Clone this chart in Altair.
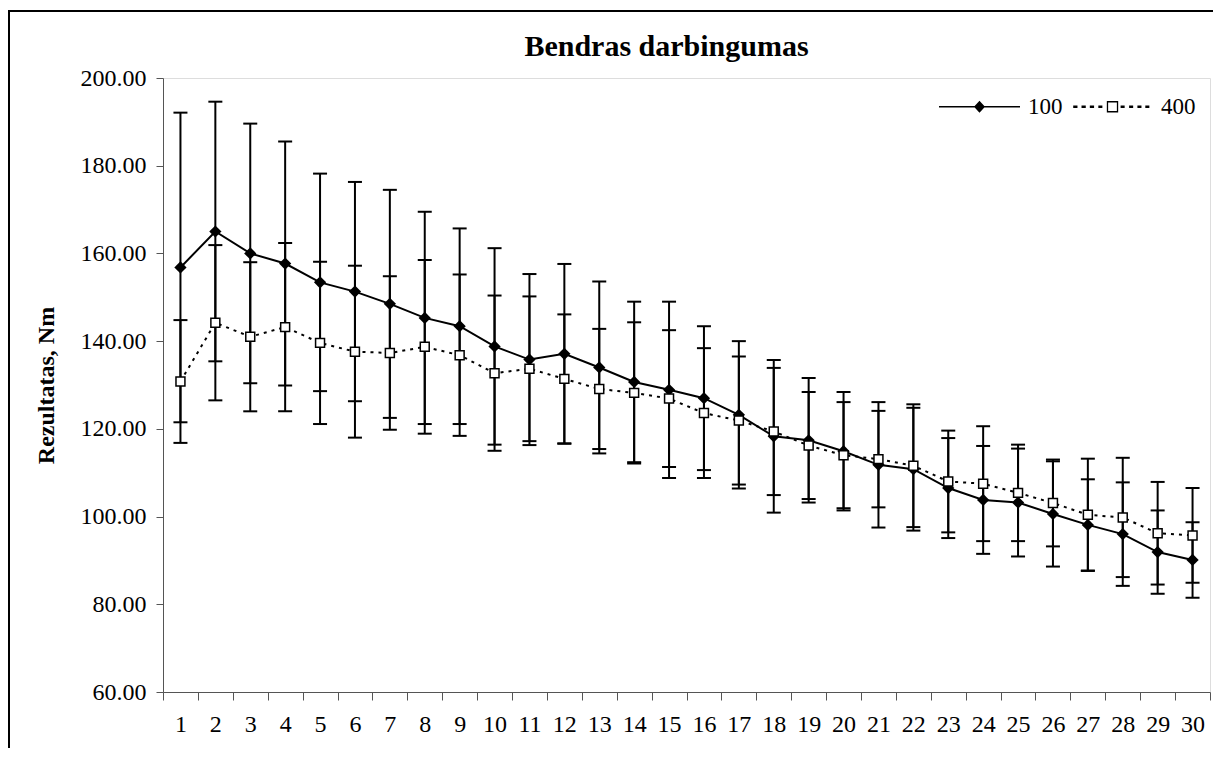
import altair as alt
import pandas as pd

# ---- data ----
sessions = list(range(1, 31))
series_names = ["100", "400"]
mean_100 = [156.8, 165.0, 160.0, 157.7, 153.4, 151.3, 148.5, 145.3, 143.4, 138.8,
            135.8, 137.1, 134.0, 130.7, 128.9, 127.0, 123.2, 118.3, 117.4, 114.9,
            111.8, 110.8, 106.5, 103.8, 103.2, 100.6, 98.1, 96.0, 91.9, 90.1]
err_100 = [35.3, 29.6, 29.6, 27.8, 24.8, 25.0, 26.0, 24.2, 22.3, 22.4,
           19.5, 20.5, 19.6, 18.3, 20.1, 16.4, 16.8, 17.4, 14.2, 13.5,
           14.3, 14.0, 11.4, 12.3, 12.3, 12.0, 10.4, 11.8, 9.5, 8.6]
mean_400 = [130.8, 144.2, 141.0, 143.2, 139.6, 137.6, 137.3, 138.7, 136.8, 132.7,
            133.7, 131.4, 129.1, 128.2, 126.9, 123.6, 121.9, 119.4, 116.2, 114.0,
            113.1, 111.6, 108.0, 107.5, 105.4, 103.1, 100.4, 99.8, 96.2, 95.7]
err_400 = [14.0, 17.7, 17.0, 19.2, 18.5, 19.6, 17.5, 19.8, 18.4, 17.7,
           16.5, 14.7, 13.7, 16.1, 15.6, 14.8, 14.6, 14.5, 12.2, 12.1,
           11.0, 14.0, 11.6, 13.1, 11.0, 9.9, 12.8, 13.6, 11.7, 10.8]
y_ticks = [60, 80, 100, 120, 140, 160, 180, 200]
title_text = "Bendras darbingumas"
y_title = "Rezultatas, Nm"

rows = []
for name, means, errs in [("100", mean_100, err_100), ("400", mean_400, err_400)]:
    for s, m, e in zip(sessions, means, errs):
        rows.append({"x": s, "series": name, "mean": m, "lo": m - e, "hi": m + e})
df = pd.DataFrame(rows)

FONT = "Liberation Serif"
AX = "#555555"
W, H = 1047, 614

# custom legend symbols (unit coordinates, scaled by sqrt(size)/2)
P100 = "M-1,-0.018H1V0.018H-1Z M0,-0.15L0.136,0L0,0.15L-0.136,0Z"
dots = [(-0.97, -0.865), (-0.765, -0.66), (-0.56, -0.455), (-0.35, -0.25),
        (0.2, 0.3), (0.41, 0.51), (0.615, 0.715), (0.81, 0.91)]
P400 = " ".join(f"M{a},-0.03H{b}V0.03H{a}Z" for a, b in dots)
P400 += " M-0.14,-0.14H0.14V0.14H-0.14Z M-0.108,-0.108V0.108H0.108V-0.108Z"

xenc = alt.X("x:O",
             scale=alt.Scale(type="band", paddingInner=0, paddingOuter=0),
             axis=alt.Axis(title=None, labelAngle=0, tickBand="extent",
                           labelFont=FONT, labelFontSize=24, labelColor="black",
                           domainColor=AX, tickColor=AX, tickSize=8,
                           labelPadding=12, grid=False))
yscale = alt.Scale(domain=[60, 200], nice=False, zero=False)
yaxis = alt.Axis(title=y_title, values=y_ticks, format=".2f", grid=False,
                 labelFont=FONT, labelFontSize=24, labelColor="black",
                 titleFont=FONT, titleFontSize=24, titleFontWeight="bold",
                 titleColor="black", domainColor=AX, tickColor=AX, tickSize=7,
                 labelPadding=10, titlePadding=22)

base = alt.Chart(df)

rules = base.mark_rule(color="black", strokeWidth=2).encode(
    x=xenc, y=alt.Y("lo:Q", scale=yscale, axis=yaxis), y2="hi:Q")
cap_lo = base.mark_tick(color="black", thickness=2, size=14, opacity=1).encode(
    x=xenc, y=alt.Y("lo:Q", scale=yscale, axis=yaxis))
cap_hi = base.mark_tick(color="black", thickness=2, size=14, opacity=1).encode(
    x=xenc, y=alt.Y("hi:Q", scale=yscale, axis=yaxis))

ymean = alt.Y("mean:Q", scale=yscale, axis=yaxis)
line100 = base.transform_filter(alt.datum.series == "100").mark_line(
    color="black", strokeWidth=2).encode(x=xenc, y=ymean)
line400 = base.transform_filter(alt.datum.series == "400").mark_line(
    color="black", strokeWidth=2, strokeDash=[3, 5]).encode(x=xenc, y=ymean)
pts100 = base.transform_filter(alt.datum.series == "100").mark_point(
    shape="diamond", filled=True, color="black", size=150, opacity=1).encode(x=xenc, y=ymean)
pts400 = base.transform_filter(alt.datum.series == "400").mark_point(
    shape="square", filled=True, fill="white", stroke="black", strokeWidth=1.5,
    size=80, opacity=1).encode(x=xenc, y=ymean)

legend_layer = base.transform_filter("false").mark_point(
    filled=True, color="black", opacity=1).encode(
    x=xenc, y=ymean,
    shape=alt.Shape("series:N",
                    scale=alt.Scale(domain=series_names, range=[P100, P400]),
                    legend=alt.Legend(title=None, orient="none", direction="horizontal",
                                      legendX=776, legendY=-12, padding=0,
                                      symbolSize=6561, symbolStrokeWidth=0,
                                      symbolFillColor="black", symbolOpacity=1,
                                      labelFont=FONT, labelFontSize=23,
                                      labelColor="black", labelOffset=8,
                                      columnPadding=9)))

frame = alt.Chart(alt.Data(values=[{"k": 1}])).mark_rect(
    filled=False, color="black", strokeWidth=2).encode(
    x=alt.value(-154), x2=alt.value(W + 200),
    y=alt.value(-67), y2=alt.value(H + 200))

chart = alt.layer(frame, rules, cap_lo, cap_hi, line100, line400, pts100, pts400,
                  legend_layer).properties(
    width=W, height=H,
    title=alt.TitleParams(title_text, font=FONT, fontSize=30, fontWeight="bold",
                          color="black", anchor="middle", baseline="alphabetic",
                          dx=-20, dy=76, offset=0),
    autosize=alt.AutoSizeParams(type="none"),
    padding={"left": 155, "top": 70, "right": 3, "bottom": 56},
).configure_view(stroke=None).configure(background="white")

chart.save("out.html", embed_options={"renderer": "svg", "actions": False})
